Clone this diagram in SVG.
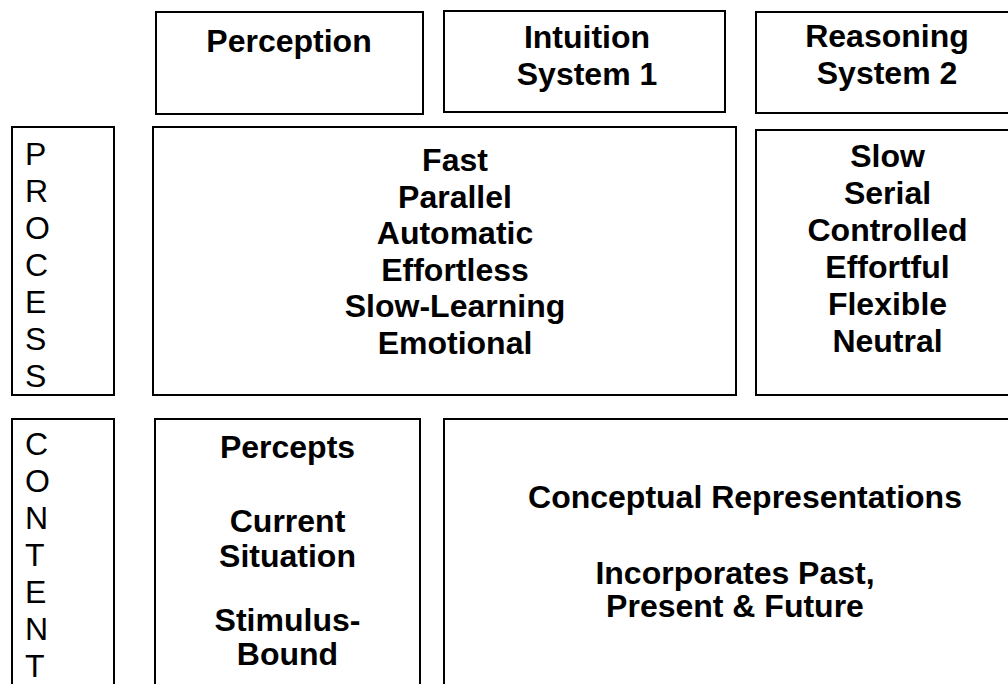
<svg xmlns="http://www.w3.org/2000/svg" width="1008" height="684" viewBox="0 0 1008 684">
  <style>
    .box { fill: #ffffff; stroke: #000000; stroke-width: 2; }
    .t { font-family: "Liberation Sans", Arial, Helvetica, sans-serif; font-size: 32px; fill: #000000; }
    .b { font-weight: bold; text-anchor: middle; }
  </style>
  <rect width="1008" height="684" fill="#ffffff"/>

  <!-- top row: column headings -->
  <g id="perception">
    <rect class="box" x="156" y="12" width="267" height="102"/>
    <text class="t b" x="289" y="52">Perception</text>
  </g>
  <g id="intuition">
    <rect class="box" x="444" y="11" width="281" height="101"/>
    <text class="t b" x="587" y="48">Intuition</text>
    <text class="t b" x="587" y="85">System 1</text>
  </g>
  <g id="reasoning">
    <rect class="box" x="756" y="12" width="300" height="101"/>
    <text class="t b" x="887" y="47">Reasoning</text>
    <text class="t b" x="887" y="84">System 2</text>
  </g>

  <!-- process row -->
  <g id="process-label">
    <rect class="box" x="12" y="127" width="102" height="268"/>
    <text class="t" x="25" y="164.5">P</text>
    <text class="t" x="25" y="201.5">R</text>
    <text class="t" x="25" y="238.5">O</text>
    <text class="t" x="25" y="275.5">C</text>
    <text class="t" x="25" y="312.5">E</text>
    <text class="t" x="25" y="349.5">S</text>
    <text class="t" x="25" y="386.5">S</text>
  </g>
  <g id="process-system1">
    <rect class="box" x="153" y="127" width="583" height="268"/>
    <text class="t b" x="455" y="171">Fast</text>
    <text class="t b" x="455" y="207.5">Parallel</text>
    <text class="t b" x="455" y="244">Automatic</text>
    <text class="t b" x="455" y="280.5">Effortless</text>
    <text class="t b" x="455" y="317">Slow-Learning</text>
    <text class="t b" x="455" y="353.5">Emotional</text>
  </g>
  <g id="process-system2">
    <rect class="box" x="756" y="130" width="300" height="265"/>
    <text class="t b" x="887.5" y="167">Slow</text>
    <text class="t b" x="887.5" y="204">Serial</text>
    <text class="t b" x="887.5" y="241">Controlled</text>
    <text class="t b" x="887.5" y="278">Effortful</text>
    <text class="t b" x="887.5" y="315">Flexible</text>
    <text class="t b" x="887.5" y="352">Neutral</text>
  </g>

  <!-- content row -->
  <g id="content-label">
    <rect class="box" x="12" y="419" width="102" height="300"/>
    <text class="t" x="25" y="455">C</text>
    <text class="t" x="25" y="492">O</text>
    <text class="t" x="25" y="529">N</text>
    <text class="t" x="25" y="566">T</text>
    <text class="t" x="25" y="603">E</text>
    <text class="t" x="25" y="640">N</text>
    <text class="t" x="25" y="677">T</text>
  </g>
  <g id="content-percepts">
    <rect class="box" x="155" y="419" width="265" height="300"/>
    <text class="t b" x="287.5" y="458">Percepts</text>
    <text class="t b" x="287.5" y="532">Current</text>
    <text class="t b" x="287.5" y="567">Situation</text>
    <text class="t b" x="287.5" y="631">Stimulus-</text>
    <text class="t b" x="287.5" y="665">Bound</text>
  </g>
  <g id="content-conceptual">
    <rect class="box" x="444" y="419" width="600" height="300"/>
    <text class="t b" x="745" y="508">Conceptual Representations</text>
    <text class="t b" x="735" y="584">Incorporates Past,</text>
    <text class="t b" x="735" y="617">Present &amp; Future</text>
  </g>

  <!-- no connectors in this table-style layout -->
  <g id="connectors"/>
</svg>
